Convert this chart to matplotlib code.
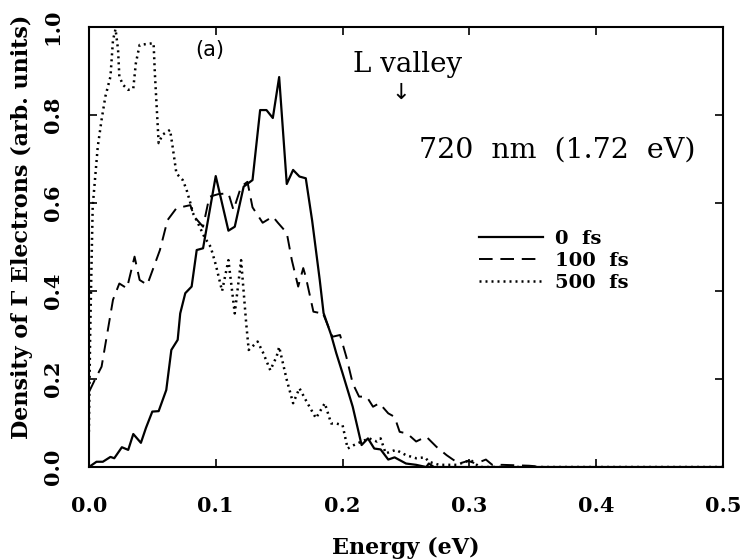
import matplotlib
matplotlib.use("Agg")
import matplotlib.pyplot as plt

# 0 fs
solid_x = [0, .006, .011, .017, .020, .026, .031, .035, .041, .045, .050, .055, .061, .065, .070,
           .072, .076, .081, .085, .090, .100, .110, .115, .122, .129, .135, .140, .145, .150, .156,
           .161, .166, .171, .176, .182, .185, .191, .195, .200, .208, .215, .220, .225, .230, .236,
           .241, .250, .258, .266, .268, .272, .30, .5]
solid_y = [0, .012, .012, .023, .02, .045, .039, .075, .055, .089, .126, .127, .175, .266, .289,
           .349, .395, .41, .493, .497, .661, .537, .546, .637, .652, .811, .811, .793, .886, .643,
           .675, .66, .656, .56, .425, .35, .30, .259, .213, .137, .05, .065, .042, .040, .017,
           .022, .008, .005, 0, .008, 0, 0, 0]

# 100 fs
dash_x = [0, .005, .010, .019, .024, .030, .036, .040, .046, .056, .062, .069, .080, .083, .090,
          .095, .102, .110, .114, .120, .125, .129, .137, .145, .149, .156, .160, .165, .169, .171,
          .177, .182, .184, .192, .198, .203, .208, .213, .219, .224, .229, .236, .241, .245, .251,
          .258, .263, .266, .274, .282, .287, .292, .299, .305, .313, .318, .326, .347, .36, .5]
dash_y = [.17, .2, .228, .38, .417, .406, .478, .425, .414, .493, .561, .588, .595, .569, .546,
          .614, .62, .622, .584, .637, .648, .59, .555, .569, .555, .532, .47, .41, .452, .432,
          .353, .35, .353, .296, .30, .25, .19, .16, .16, .137, .145, .122, .114, .080, .076,
          .058, .065, .069, .046, .027, .017, .008, .014, .008, .017, .005, .005, .003, 0, 0]

# 500 fs
dot_x = [0, .001, .002, .003, .007, .010, .013, .017, .019, .021, .023, .024, .027, .031, .035,
         .037, .040, .051, .052, .055, .058, .064, .066, .069, .074, .077, .080, .082, .086, .091,
         .096, .100, .105, .110, .115, .120, .124, .126, .133, .137, .143, .148, .150, .156, .161,
         .166, .171, .179, .186, .191, .195, .200, .204, .209, .215, .221, .227, .230, .234, .242,
         .250, .258, .265, .268, .276, .290, .297, .301, .308, .5]
dot_y = [.08, .3, .45, .592, .728, .789, .842, .887, .97, .995, .948, .887, .868, .857, .86,
         .917, .959, .963, .895, .736, .755, .766, .728, .667, .652, .63, .60, .577, .554, .523,
         .50, .46, .40, .47, .349, .47, .327, .266, .285, .262, .220, .251, .273, .198, .145,
         .179, .152, .111, .145, .099, .099, .095, .042, .05, .058, .065, .058, .065, .031, .039,
         .027, .020, .022, .012, .005, .005, .012, .016, 0, 0]

labels = ['0  fs', '100  fs', '500  fs']
xticks = [0.0, 0.1, 0.2, 0.3, 0.4, 0.5]
yticks = [0.0, 0.2, 0.4, 0.6, 0.8, 1.0]

serif = 'DejaVu Serif'

fig = plt.figure(figsize=(7.47, 5.6), dpi=100)
ax = fig.add_axes([0.119, 0.166, 0.849, 0.786])

ax.plot(solid_x, solid_y, color='black', lw=1.6, ls='-', label=labels[0])
ax.plot(dash_x, dash_y, color='black', lw=1.4, ls=(0, (7, 4)), label=labels[1])
ax.plot(dot_x, dot_y, color='black', lw=1.8, ls=(0, (0.8, 1.6)), label=labels[2])

ax.set_xlim(0, 0.5)
ax.set_ylim(0, 1.0)
ax.set_xticks(xticks)
ax.set_yticks(yticks)
ax.set_xticklabels(['%.1f' % t for t in xticks], fontfamily=serif, fontweight='bold', fontsize=15)
ax.set_yticklabels(['%.1f' % t for t in yticks], fontfamily=serif, fontweight='bold', fontsize=15,
                   rotation=90, va='center')
ax.tick_params(direction='in', length=6, width=1.2, top=True, right=True)
ax.tick_params(axis='x', pad=21)
ax.tick_params(axis='y', pad=19)
for s in ax.spines.values():
    s.set_linewidth(1.5)

ax.set_xlabel('Energy (eV)', fontfamily=serif, fontweight='bold', fontsize=16, labelpad=15)
ax.set_ylabel('Density of \u0393 Electrons (arb. units)', fontfamily=serif, fontweight='bold',
              fontsize=16)
ax.yaxis.set_label_coords(-0.088, 0.545)

ax.text(0.095, 0.948, '(a)', fontsize=15, ha='center', va='center')
ax.text(0.251, 0.915, 'L valley', fontfamily=serif, fontsize=20, ha='center', va='center')
ax.text(0.246, 0.85, '\u2193', fontfamily='DejaVu Sans', fontsize=16, ha='center', va='center')
ax.text(0.369, 0.72, '720  nm  (1.72  eV)', fontfamily=serif, fontsize=20.5, ha='center', va='center')

ax.legend(loc='upper left', bbox_to_anchor=(0.6, 0.56), frameon=False, borderpad=0,
          handlelength=3.3, handletextpad=0.6, labelspacing=0.2,
          prop={'family': serif, 'weight': 'bold', 'size': 14})

fig.savefig('out.png', dpi=100)
